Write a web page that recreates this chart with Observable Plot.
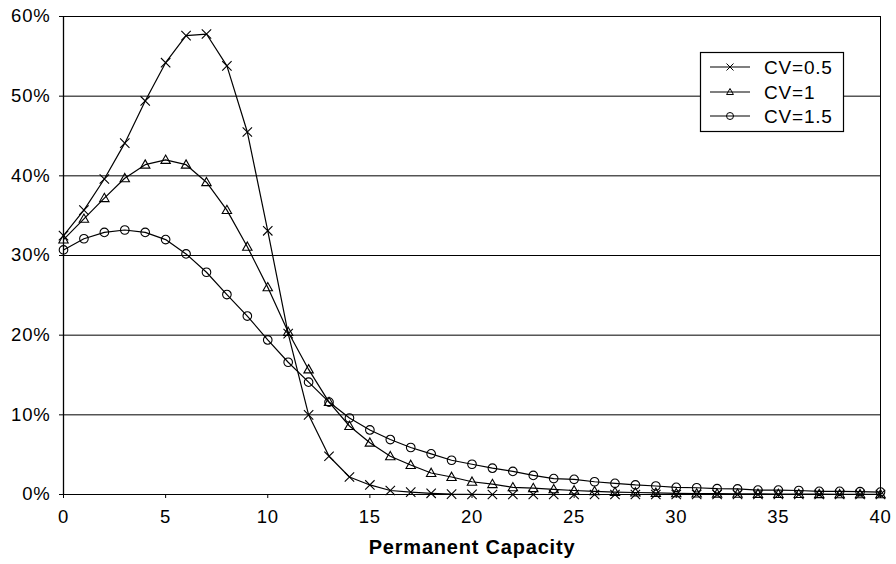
<!DOCTYPE html>
<html>
<head>
<meta charset="utf-8">
<script src="https://cdn.jsdelivr.net/npm/d3@7"></script>
<script src="https://cdn.jsdelivr.net/npm/@observablehq/plot@0.6"></script>
<style>
  html, body { margin: 0; padding: 0; background: white; }
</style>
</head>
<body>
<div id="chart"></div>
<script>
const capacity = d3.range(0, 41);
const seriesNames = ["CV=0.5", "CV=1", "CV=1.5"];
const cv05 = [32.5,35.7,39.6,44.1,49.4,54.2,57.6,57.8,53.8,45.5,
              33.1,20.2,10.0,4.8,2.2,1.2,0.5,0.3,0.15,0.05,
              0.02,0,0,0,0,0,0,0,0,0,
              0,0,0,0,0,0,0,0,0,0,0];
const cv1 = [32.0,34.6,37.2,39.7,41.4,42.0,41.4,39.2,35.7,31.1,
             26.0,20.4,15.7,11.6,8.6,6.5,4.8,3.7,2.7,2.2,
             1.6,1.3,0.9,0.8,0.65,0.5,0.4,0.3,0.25,0.2,
             0.15,0.12,0.1,0.08,0.07,0.06,0.05,0.04,0.03,0.03,0.02];
const cv15 = [30.7,32.1,32.9,33.2,32.9,32.0,30.2,27.9,25.1,22.4,
              19.4,16.6,14.1,11.6,9.6,8.1,6.9,5.9,5.1,4.3,
              3.8,3.3,2.9,2.4,2.0,1.9,1.6,1.4,1.2,1.07,
              0.9,0.85,0.73,0.7,0.55,0.55,0.5,0.4,0.4,0.35,0.3];
const xTicks = [0, 5, 10, 15, 20, 25, 30, 35, 40];
const yTicks = [0, 10, 20, 30, 40, 50, 60];

const seriesValues = [cv05, cv1, cv15];
const rows = seriesNames.map((name, i) =>
  capacity.map((c, j) => ({series: name, x: c, y: seriesValues[i][j]})));

// custom stroke symbols
const timesSym = {draw(ctx, size) { const r = Math.sqrt(size / Math.PI);
  ctx.moveTo(-r, -r); ctx.lineTo(r, r); ctx.moveTo(r, -r); ctx.lineTo(-r, r); }};
const triSym = {draw(ctx, size) { const r = Math.sqrt(size / Math.PI);
  ctx.moveTo(0, -r); ctx.lineTo(r * 0.98, r * 0.72); ctx.lineTo(-r * 0.98, r * 0.72); ctx.closePath(); }};
const circSym = {draw(ctx, size) { const r = Math.sqrt(size / Math.PI);
  ctx.moveTo(r, 0); ctx.arc(0, 0, r, 0, 2 * Math.PI); }};
const symbols = [timesSym, triSym, circSym];
const radii = [4.7, 4.8, 4.3];

const marks = [
  Plot.ruleY(yTicks, {stroke: "black", strokeWidth: 1}),
  Plot.ruleX([0], {stroke: "black", strokeWidth: 1.3}),
  Plot.ruleX([40], {stroke: "black", strokeWidth: 1}),
  Plot.axisY({ticks: yTicks, tickSize: 4, tickPadding: 9, tickFormat: d => d + "%", label: null}),
  Plot.axisX({ticks: xTicks, tickSize: 4, tickPadding: 11, tickFormat: d => String(d), label: null}),
  Plot.text(["Permanent Capacity"], {frameAnchor: "bottom", dy: 53, fontWeight: "bold", fontSize: 20, lineAnchor: "middle"})
];
rows.forEach((data, i) => {
  marks.push(Plot.line(data, {x: "x", y: "y", stroke: "black", strokeWidth: 1.2}));
  marks.push(Plot.dot(data, {x: "x", y: "y", symbol: symbols[i], r: radii[i], stroke: "black", strokeWidth: 1.1, fill: "none"}));
});

const chart = Plot.plot({
  width: 896,
  height: 564,
  marginLeft: 63,
  marginRight: 16,
  marginTop: 16,
  marginBottom: 70,
  style: {fontFamily: "'Liberation Sans', Arial, sans-serif", fontSize: "18.5px", background: "white", color: "black", letterSpacing: "0.8px"},
  x: {domain: [0, 40]},
  y: {domain: [0, 60]},
  marks
});
document.getElementById("chart").appendChild(chart);

// legend box
const svg = d3.select(chart);
const lg = svg.append("g").attr("font-family", "'Liberation Sans', Arial, sans-serif")
  .attr("font-size", 19).attr("text-anchor", "start");
lg.append("rect").attr("x", 700.5).attr("y", 52.5).attr("width", 143).attr("height", 79)
  .attr("fill", "white").attr("stroke", "black").attr("stroke-width", 1.2);
const rowY = [67, 92, 116];
seriesNames.forEach((name, i) => {
  const g = lg.append("g").attr("transform", `translate(0,${rowY[i]})`);
  g.append("line").attr("x1", 710).attr("x2", 750).attr("y1", 0).attr("y2", 0).attr("stroke", "black").attr("stroke-width", 1.1);
  const p = d3.path();
  symbols[i].draw(p, Math.PI * 3.5 * 3.5);
  g.append("path").attr("d", p.toString()).attr("transform", "translate(730,0)")
    .attr("fill", "none").attr("stroke", "black").attr("stroke-width", 1);
  g.append("text").attr("x", 764).attr("y", 0).attr("dy", "0.36em").attr("text-anchor", "start").text(name);
});
</script>
</body>
</html>
